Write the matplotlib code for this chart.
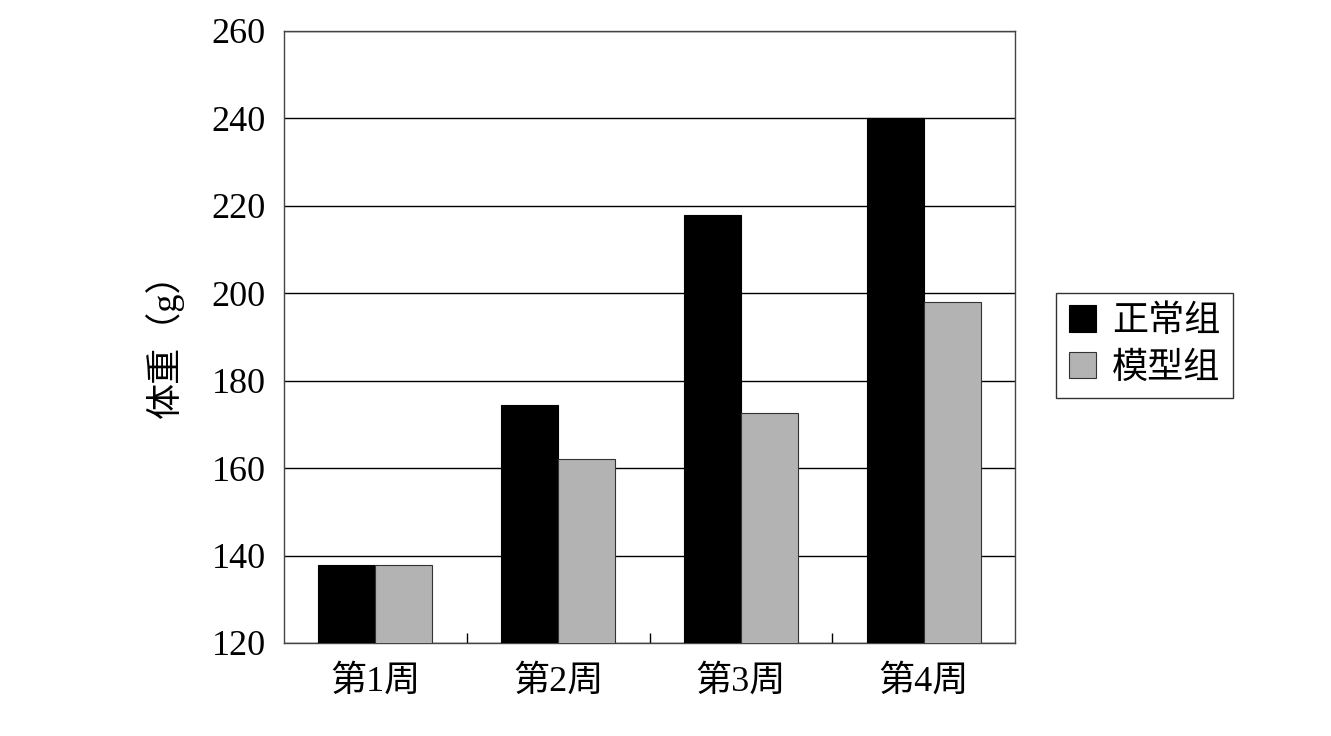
import numpy as np
import matplotlib
matplotlib.use("Agg")
import matplotlib.pyplot as plt

plt.rcParams['font.family'] = ['Liberation Serif', 'Noto Sans CJK SC']

weeks = ["第1周", "第2周", "第3周", "第4周"]
normal = [137.8, 174.5, 218.0, 240.0]
model = [137.8, 162.0, 172.5, 198.0]
series_names = ["正常组", "模型组"]

fig = plt.figure(figsize=(13.31, 7.36), dpi=100)
ax = fig.add_axes([0.2134, 0.1264, 0.5492, 0.8315])

x = np.arange(len(weeks))
w = 0.312
ax.bar(x - w / 2, normal, w, color="black", edgecolor="black", linewidth=0.8,
       label=series_names[0], zorder=3)
ax.bar(x + w / 2, model, w, color="#b3b3b3", edgecolor="#333333", linewidth=0.8,
       label=series_names[1], zorder=3)

ax.set_ylim(120, 260)
ax.set_xlim(-0.5, len(weeks) - 0.5)
ax.set_yticks(np.arange(120, 261, 20))
ax.yaxis.grid(True, color="black", linewidth=1, zorder=0)
ax.tick_params(axis="y", length=0, labelsize=26, pad=13)

ax.set_xticks(x)
ax.set_xticklabels(weeks, fontsize=26)
ax.tick_params(axis="x", length=0, pad=16)
ax.set_xticks(np.arange(0.5, len(weeks) - 1, 1), minor=True)
ax.tick_params(axis="x", which="minor", direction="in", length=7, width=1)

for s in ax.spines.values():
    s.set_color("#444444")
    s.set_linewidth(1)

ax.set_ylabel("体重（g）", fontsize=26, labelpad=20)

leg = ax.legend(loc="center left", bbox_to_anchor=(1.056, 0.486), fontsize=26,
                frameon=True, fancybox=False, edgecolor="black",
                handlelength=0.75, handleheight=0.75, handletextpad=0.45,
                borderpad=0.35, labelspacing=0.35, borderaxespad=0)
leg.get_frame().set_linewidth(1)

fig.savefig("out.png", dpi=100)
